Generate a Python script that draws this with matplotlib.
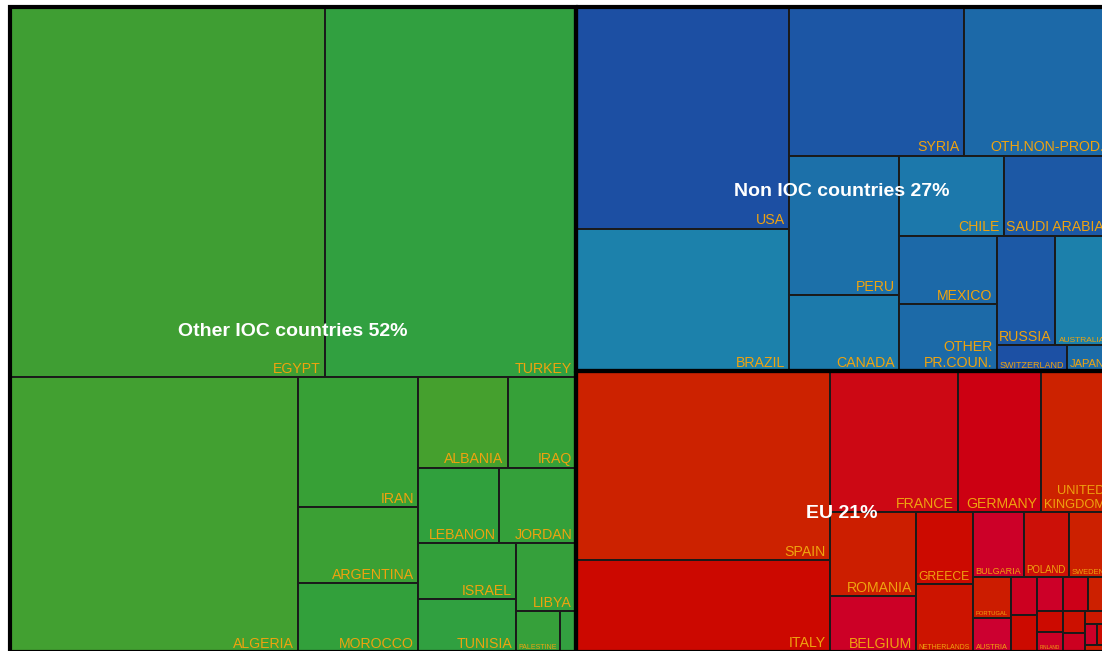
import matplotlib.pyplot as plt
from matplotlib.patches import Rectangle

plt.rcParams['font.family'] = ['Liberation Sans', 'DejaVu Sans']

# 三个大组
groups = ['Other IOC countries', 'Non IOC countries', 'EU']

ioc_names = ['EGYPT', 'TURKEY', 'ALGERIA', 'IRAN', 'ARGENTINA', 'MOROCCO', 'ALBANIA', 'IRAQ',
             'LEBANON', 'JORDAN', 'ISRAEL', 'TUNISIA', 'LIBYA', 'PALESTINE', '']
ioc_values = [1168.7, 931.2, 792.0, 156.0, 91.2, 82.8, 81.0, 62.0, 61.5, 57.8, 54.9, 51.9, 40.8, 18.0, 6.6]

non_names = ['USA', 'BRAZIL', 'SYRIA', 'OTH.NON-PROD.', 'PERU', 'CANADA', 'CHILE', 'SAUDI ARABIA',
             'MEXICO', 'OTHER\nPR.COUN.', 'RUSSIA', 'AUSTRALIA', 'SWITZERLAND', 'JAPAN']
non_values = [472.9, 304.6, 260.8, 214.6, 154.0, 83.8, 83.6, 83.4, 67.0, 65.4, 64.4, 57.6, 18.6, 10.8]

eu_names = ['SPAIN', 'ITALY', 'FRANCE', 'GERMANY', 'UNITED\nKINGDOM', 'ROMANIA', 'BELGIUM', 'GREECE',
            'NETHERLANDS', 'BULGARIA', 'POLAND', 'SWEDEN', 'PORTUGAL', 'AUSTRIA',
            '', '', '', '', '', '', 'FINLAND', '', '', '', '', '', '']
eu_values = [480.1, 233.7, 180.5, 117.0, 94.5, 72.2, 48.2, 41.0, 38.8, 33.2, 29.3, 25.4, 15.6, 12.9,
             9.75, 9.75, 8.84, 8.5, 6.8, 5.46, 5.2, 4.8, 4.2, 3.0, 2.6, 2.2, 1.65]

# 每个格子的颜色
ioc_colors = ['#3f9e33', '#31a040', '#42a031', '#37a036', '#3ba034', '#32a03b', '#45a02e', '#36a038',
              '#30a03d', '#34a03a', '#33a03b', '#30a040', '#35a03b', '#36a03a', '#33a040']
non_colors = ['#1c4fa3', '#1c81ab', '#1c56a5', '#1c69a8', '#1c70a9', '#1c7aab', '#1c78ab', '#1c58a5',
              '#1c69a8', '#1c6aa8', '#1c59a6', '#1c80ab', '#1c50a4', '#1c6ca8']
eu_colors = ['#cc2200', '#cc0800', '#cc0814', '#cc0012', '#cc2200', '#cc1e00', '#cc0026', '#cc0a00',
             '#cc1400', '#cc0028', '#cc1008', '#cc2000', '#cc1c00', '#cc0030',
             '#cc0020', '#cc0a00', '#cc0028', '#cc0018', '#cc2000', '#cc0a00', '#cc0026',
             '#cc1000', '#cc0020', '#cc1800', '#cc0028', '#cc0a00', '#cc1c00']

group_names = [ioc_names, non_names, eu_names]
group_values = [ioc_values, non_values, eu_values]
group_colors = [ioc_colors, non_colors, eu_colors]

W, H = 1098.0, 645.0
label_color = '#efa30f'
base_size = 10.2


def first_ratio(row, side):
    t = sum(row) / side
    l = row[0] / t
    return max(t / l, l / t)


def squarify(values, x, y, w, h):
    total = sum(values)
    areas = [v * w * h / total for v in values]
    rects = []
    i = 0
    while i < len(areas):
        side = h if w >= h else w
        row = [areas[i]]
        best = first_ratio(row, side)
        j = i + 1
        while j < len(areas):
            r = first_ratio(row + [areas[j]], side)
            if r > best:
                break
            row.append(areas[j])
            best = r
            j += 1
        s = sum(row)
        if w >= h:
            t = s / h
            yy = y
            for a in row:
                rects.append((x, yy, t, a / t))
                yy += a / t
            x += t
            w -= t
        else:
            t = s / w
            xx = x
            for a in row:
                rects.append((xx, y, a / t, t))
                xx += a / t
            y += t
            h -= t
        i = j
    return rects


fig = plt.figure(figsize=(11.02, 6.51), dpi=100)
ax = fig.add_axes([10 / 1102, -1 / 651, W / 1102, H / 651])
ax.set_xlim(0, W)
ax.set_ylim(H, 0)
ax.axis('off')
renderer = fig.canvas.get_renderer()

sums = [sum(v) for v in group_values]
total = sum(sums)
order = sorted(range(len(groups)), key=lambda k: -sums[k])
grects = squarify([sums[k] for k in order], 0, 0, W, H)

for k, (gx, gy, gw, gh) in zip(order, grects):
    idx = sorted(range(len(group_values[k])), key=lambda n: -group_values[k][n])
    cells = squarify([group_values[k][n] for n in idx], gx, gy, gw, gh)
    for n, (cx, cy, cw, ch) in zip(idx, cells):
        ax.add_patch(Rectangle((cx, cy), cw, ch, facecolor=group_colors[k][n],
                               edgecolor='#1a1a1a', linewidth=1.4, clip_on=False, zorder=1))
        name = group_names[k][n]
        if not name:
            continue
        txt = ax.text(cx + cw - 4, cy + ch - 4.5, name, ha='right', va='baseline',
                      multialignment='right', fontsize=base_size, color=label_color,
                      clip_on=False, zorder=3)
        tw = txt.get_window_extent(renderer).width
        avail = cw - 6
        if tw > avail:
            scale = avail / tw
            txt.set_fontsize(base_size * scale)
            txt.set_position((cx + cw - 3, cy + ch - 2 - 2.5 * scale))
    ax.add_patch(Rectangle((gx, gy), gw, gh, facecolor='none', edgecolor='black',
                           linewidth=3, clip_on=False, zorder=2))
    pct = round(100 * sums[k] / total)
    ax.text(gx + gw / 2, gy + gh / 2, f'{groups[k]} {pct}%', ha='center', va='center_baseline',
            color='white', fontsize=14, fontweight='bold', zorder=4)

fig.savefig('out.png', dpi=100, facecolor='white')
